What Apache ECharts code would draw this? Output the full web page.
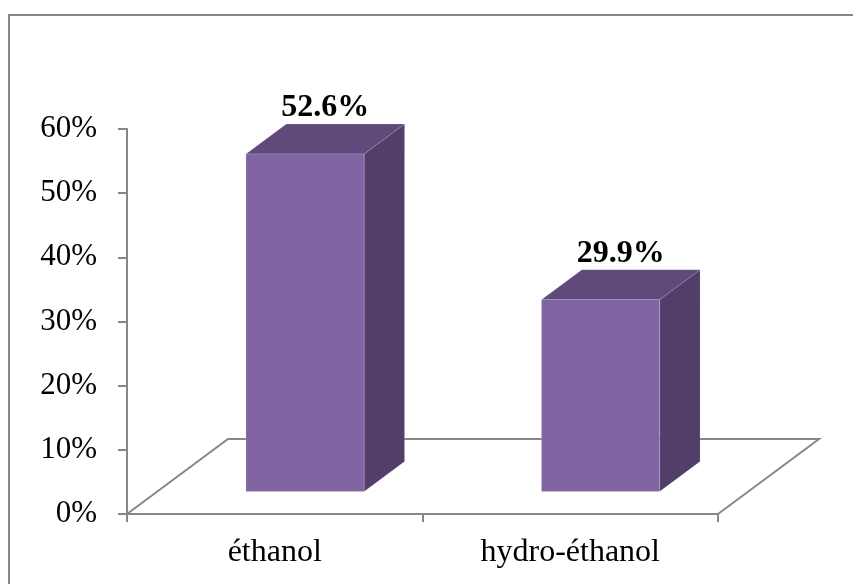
<!DOCTYPE html>
<html>
<head>
<meta charset="utf-8">
<script src="https://cdn.jsdelivr.net/npm/echarts@6/dist/echarts.min.js"></script>
<style>
  html, body { margin: 0; padding: 0; background: #ffffff; }
  #chart { width: 853px; height: 584px; }
</style>
</head>
<body>
<div id="chart"></div>
<script>
// Extraction yields by solvent (%)
const categories = ['éthanol', 'hydro-éthanol'];
const yields = [52.6, 29.9];
const yTicks = [0, 10, 20, 30, 40, 50, 60];

// Oblique projection of the depth axis (pixels for the full floor depth)
const DEPTH_DX = 101;
const DEPTH_DY = -75;
const BAR_FRONT = 0.3;   // bar occupies 30%..70% of the floor depth
const BAR_BACK = 0.7;
const BAR_RATIO = 0.4;   // bar width as a share of the category band

const SERIF = "'Liberation Serif', 'Times New Roman', serif";
const GRAY = '#878787';

const chart = echarts.init(document.getElementById('chart'), null, { renderer: 'canvas' });

function renderFloor(params, api) {
  const cs = params.coordSys;
  const x0 = cs.x, x1 = cs.x + cs.width, yb = cs.y + cs.height;
  return {
    type: 'polyline',
    shape: {
      points: [
        [x0, yb],
        [x0 + DEPTH_DX, yb + DEPTH_DY],
        [x1 + DEPTH_DX, yb + DEPTH_DY],
        [x1, yb]
      ]
    },
    style: { stroke: GRAY, lineWidth: 2, fill: null }
  };
}

function renderBar(params, api) {
  const cat = api.value(0);
  const val = api.value(1);
  const base = api.coord([cat, 0]);
  const top = api.coord([cat, val]);
  const band = api.size([1, 0])[0];
  const w = band * BAR_RATIO;

  const fx0 = base[0] - w / 2 + DEPTH_DX * BAR_FRONT;
  const fx1 = fx0 + w;
  const fyb = base[1] + DEPTH_DY * BAR_FRONT;
  const fyt = top[1] + DEPTH_DY * BAR_FRONT;
  const ddx = DEPTH_DX * (BAR_BACK - BAR_FRONT);
  const ddy = DEPTH_DY * (BAR_BACK - BAR_FRONT);

  const edge = 'rgba(255,255,255,0.12)';
  return {
    type: 'group',
    children: [
      {
        type: 'polygon',
        shape: { points: [[fx1, fyt], [fx1 + ddx, fyt + ddy], [fx1 + ddx, fyb + ddy], [fx1, fyb]] },
        style: { fill: '#523F69', stroke: edge, lineWidth: 1 }
      },
      {
        type: 'polygon',
        shape: { points: [[fx0, fyt], [fx0 + ddx, fyt + ddy], [fx1 + ddx, fyt + ddy], [fx1, fyt]] },
        style: { fill: '#604A7B', stroke: edge, lineWidth: 1 }
      },
      {
        type: 'rect',
        shape: { x: fx0, y: fyt, width: w, height: fyb - fyt },
        style: { fill: '#8064A2', stroke: 'rgba(255,255,255,0.18)', lineWidth: 1 }
      },
      {
        type: 'text',
        style: {
          x: (fx0 + fx1) / 2 + ddx / 2,
          y: fyt + ddy,
          text: val.toFixed(1) + '%',
          fill: '#000000',
          font: 'bold 32px ' + SERIF,
          align: 'center',
          verticalAlign: 'bottom'
        }
      }
    ]
  };
}

chart.setOption({
  animation: false,
  backgroundColor: '#ffffff',
  graphic: [{
    type: 'rect',
    shape: { x: 9, y: 15, width: 860, height: 600 },
    style: { fill: null, stroke: GRAY, lineWidth: 2 },
    silent: true
  }],
  grid: { left: 127, top: 129, width: 591, height: 385, containLabel: false },
  xAxis: {
    type: 'category',
    data: categories,
    boundaryGap: true,
    axisLine: { show: true, lineStyle: { color: GRAY, width: 2 } },
    axisTick: { show: true, length: 8, alignWithLabel: false, lineStyle: { color: GRAY, width: 2 } },
    axisLabel: { color: '#000000', fontFamily: SERIF, fontSize: 32, margin: 23 },
    splitLine: { show: false }
  },
  yAxis: {
    type: 'value',
    min: yTicks[0],
    max: yTicks[yTicks.length - 1],
    interval: yTicks[1] - yTicks[0],
    axisLine: { show: true, lineStyle: { color: GRAY, width: 2 } },
    axisTick: { show: true, length: 9, lineStyle: { color: GRAY, width: 2 } },
    axisLabel: { color: '#000000', fontFamily: SERIF, fontSize: 31, margin: 30, formatter: '{value}%' },
    splitLine: { show: false }
  },
  series: [
    {
      type: 'custom',
      name: 'floor',
      z: 1,
      silent: true,
      renderItem: renderFloor,
      data: [[0]]
    },
    {
      type: 'custom',
      name: 'rendement',
      z: 3,
      renderItem: renderBar,
      encode: { x: 0, y: 1 },
      data: categories.map((c, i) => [i, yields[i]])
    }
  ]
});
</script>
</body>
</html>
